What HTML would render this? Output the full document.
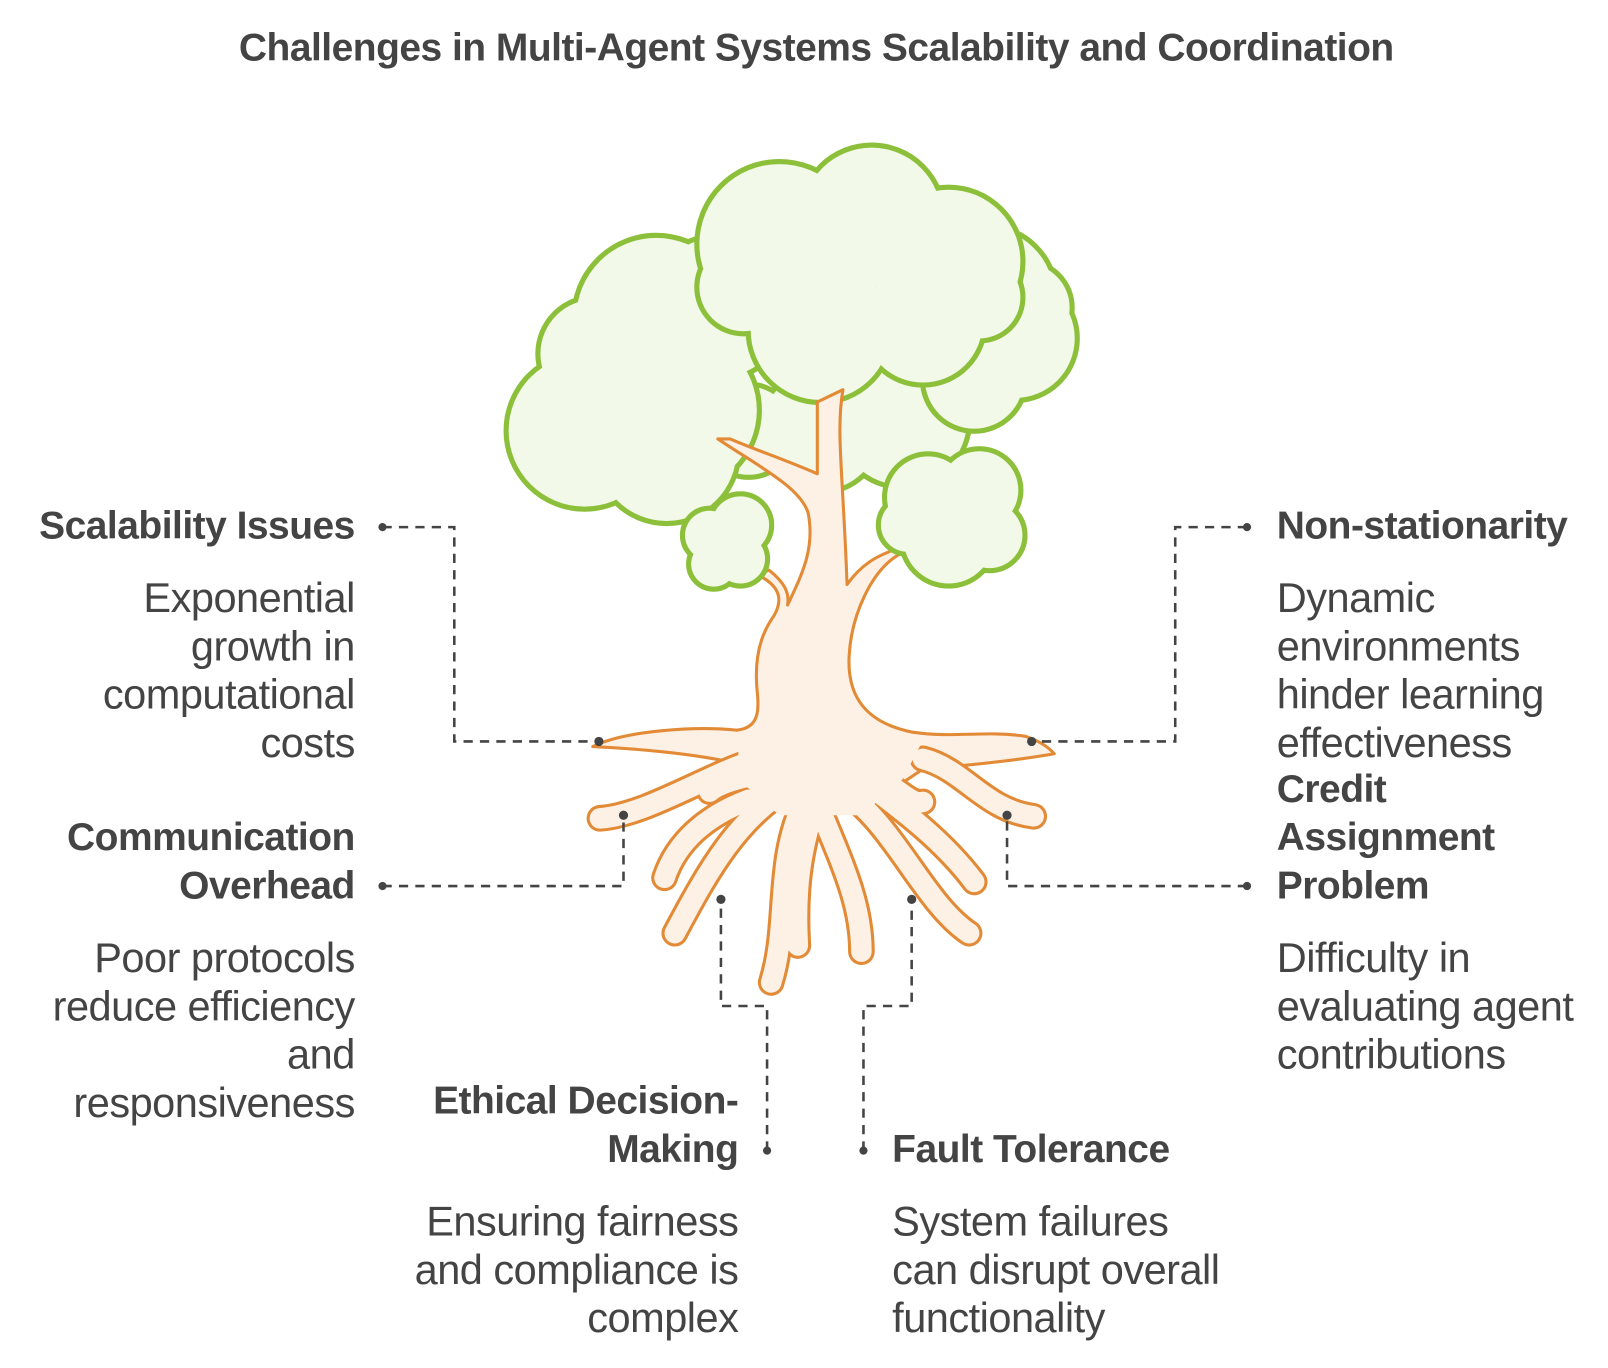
<!DOCTYPE html>
<html><head><meta charset="utf-8"><style>
body{margin:0;width:1608px;height:1368px;background:#fff;position:relative;font-family:"Liberation Sans",sans-serif;color:#444;overflow:hidden}
#w{position:absolute;left:0;top:0;width:1568px;height:1334px;transform:scale(1.0255);transform-origin:0 0}
.t{position:absolute;white-space:nowrap;line-height:47px}
.h{font-weight:bold;font-size:38px;letter-spacing:-0.5px}
.b{font-size:40.5px;letter-spacing:-0.5px}
.r{text-align:right}
</style></head><body><div id="w">
<svg width="1568" height="1334" style="position:absolute;left:0;top:0">
<!-- middle back cloud -->
<g><g stroke="#8dc03a" stroke-width="6" fill="#f2f9e8"><circle cx="800" cy="420" r="60"/><circle cx="880" cy="410" r="65"/><circle cx="730" cy="420" r="45"/></g>
<g fill="#f2f9e8"><circle cx="800" cy="420" r="58"/><circle cx="880" cy="410" r="63"/><circle cx="730" cy="420" r="43"/></g></g>
<!-- left cloud -->
<g><g stroke="#8dc03a" stroke-width="6" fill="#f2f9e8"><circle cx="640" cy="310" r="80"/><circle cx="580" cy="345" r="55"/><circle cx="570" cy="420" r="76"/><circle cx="660" cy="400" r="80"/><circle cx="700" cy="300" r="70"/><circle cx="650" cy="440" r="70"/></g>
<g fill="#f2f9e8"><circle cx="640" cy="310" r="78"/><circle cx="580" cy="345" r="53"/><circle cx="570" cy="420" r="74"/><circle cx="660" cy="400" r="78"/><circle cx="700" cy="300" r="68"/><circle cx="650" cy="440" r="68"/></g></g>
<!-- right back cloud -->
<g><g stroke="#8dc03a" stroke-width="6" fill="#f2f9e8"><circle cx="960" cy="290" r="70"/><circle cx="990" cy="330" r="60"/><circle cx="950" cy="370" r="50"/><circle cx="1000" cy="300" r="45"/></g>
<g fill="#f2f9e8"><circle cx="960" cy="290" r="68"/><circle cx="990" cy="330" r="58"/><circle cx="950" cy="370" r="48"/><circle cx="1000" cy="300" r="43"/></g></g>
<!-- main cloud -->
<g><g stroke="#8dc03a" stroke-width="6" fill="#f2f9e8"><circle cx="850" cy="212" r="70"/><circle cx="760" cy="238" r="80"/><circle cx="925" cy="255" r="72"/><circle cx="725" cy="280" r="45"/><circle cx="800" cy="322" r="70"/><circle cx="900" cy="315" r="60"/><circle cx="955" cy="290" r="42"/></g>
<g fill="#f2f9e8"><circle cx="850" cy="212" r="68"/><circle cx="760" cy="238" r="78"/><circle cx="925" cy="255" r="70"/><circle cx="725" cy="280" r="43"/><circle cx="800" cy="322" r="68"/><circle cx="900" cy="315" r="58"/><circle cx="955" cy="290" r="40"/></g></g>

<!-- trunk body -->
<path d="M578,728 C610,712 680,708 718,712 C742,710 740,690 738,670 C735,630 748,610 755,600 C765,582 758,570 738,560 L750,556 C765,568 770,578 768,590 C782,560 795,535 788,500 C780,475 740,455 700,428 L712,428 C740,440 765,448 797,462 L797,392 L822,380 C815,420 822,460 826,570 C840,550 855,542 875,535 L878,540 C850,555 830,600 828,640 C826,680 845,705 890,714 C930,720 960,712 1000,718 C1012,722 1022,728 1028,735 C1000,740 960,745 900,750 L840,790 L760,790 L720,745 C680,735 620,730 578,728 Z" fill="#fdf1e6" stroke="#e28a35" stroke-width="3" stroke-linejoin="round"/>
<g fill="none" stroke-linecap="round">
<g stroke="#e28a35" stroke-width="26">
<path d="M740,740 C690,755 630,795 585,798"/>
<path d="M775,765 C720,795 690,850 658,910"/>
<path d="M730,780 C690,795 660,820 648,856"/>
<path d="M740,755 C715,760 700,765 692,772"/>
<path d="M785,780 C755,840 770,900 752,958"/>
<path d="M795,785 C780,830 775,870 778,922"/>
<path d="M800,790 C820,840 840,880 840,928"/>
<path d="M820,770 C870,800 900,880 945,910"/>
<path d="M840,760 C880,790 920,820 950,860"/>
<path d="M850,752 C875,770 890,785 900,782"/>
<path d="M900,740 C940,750 960,790 1008,796"/>
</g>
<g stroke="#fdf1e6" stroke-width="20">
<path d="M740,740 C690,755 630,795 585,798"/>
<path d="M775,765 C720,795 690,850 658,910"/>
<path d="M730,780 C690,795 660,820 648,856"/>
<path d="M740,755 C715,760 700,765 692,772"/>
<path d="M785,780 C755,840 770,900 752,958"/>
<path d="M795,785 C780,830 775,870 778,922"/>
<path d="M800,790 C820,840 840,880 840,928"/>
<path d="M820,770 C870,800 900,880 945,910"/>
<path d="M840,760 C880,790 920,820 950,860"/>
<path d="M850,752 C875,770 890,785 900,782"/>
<path d="M900,740 C940,750 960,790 1008,796"/>
</g></g>
<path d="M720,718 L900,722 L880,760 L840,795 L760,795 L720,760 Z" fill="#fdf1e6"/>

<!-- small left cloud -->
<g><g stroke="#8dc03a" stroke-width="6" fill="#f2f9e8"><circle cx="692" cy="522" r="26"/><circle cx="722" cy="512" r="30"/><circle cx="722" cy="545" r="26"/><circle cx="696" cy="550" r="24"/></g>
<g fill="#f2f9e8"><circle cx="692" cy="522" r="24"/><circle cx="722" cy="512" r="28"/><circle cx="722" cy="545" r="24"/><circle cx="696" cy="550" r="22"/></g></g>
<!-- small right cloud -->
<g><g stroke="#8dc03a" stroke-width="6" fill="#f2f9e8"><circle cx="905" cy="485" r="42"/><circle cx="955" cy="478" r="40"/><circle cx="925" cy="525" r="46"/><circle cx="965" cy="522" r="34"/><circle cx="885" cy="512" r="28"/></g>
<g fill="#f2f9e8"><circle cx="905" cy="485" r="40"/><circle cx="955" cy="478" r="38"/><circle cx="925" cy="525" r="44"/><circle cx="965" cy="522" r="32"/><circle cx="885" cy="512" r="26"/></g></g>

<!-- connectors -->
<g fill="none" stroke="#444" stroke-width="2.5" stroke-dasharray="9 7">
<path d="M373,514 H443 V723 H584"/>
<path d="M373,864 H608 V795"/>
<path d="M748,1122 V981 H703 V877"/>
<path d="M842,1122 V981 H889 V877"/>
<path d="M1216,514 H1146 V723 H1006"/>
<path d="M1216,864 H982 V795"/>
</g>
<g fill="#444">
<circle cx="373" cy="514" r="4"/><circle cx="584" cy="723" r="4.5"/>
<circle cx="373" cy="864" r="4"/><circle cx="608" cy="795" r="4.5"/>
<circle cx="748" cy="1122" r="4"/><circle cx="703" cy="877" r="4.5"/>
<circle cx="842" cy="1122" r="4"/><circle cx="889" cy="877" r="4.5"/>
<circle cx="1216" cy="514" r="4"/><circle cx="1006" cy="723" r="4.5"/>
<circle cx="1216" cy="864" r="4"/><circle cx="982" cy="795" r="4.5"/>
</g>
</svg>

<div class="t h" style="left:0;width:1592px;text-align:center;top:24px;font-size:38px">Challenges in Multi-Agent Systems Scalability and Coordination</div>

<div class="t h r" style="right:1222px;top:490px">Scalability Issues</div>
<div class="t b r" style="right:1222px;top:560px">Exponential<br>growth in<br>computational<br>costs</div>

<div class="t h r" style="right:1222px;top:794px">Communication<br>Overhead</div>
<div class="t b r" style="right:1222px;top:911px">Poor protocols<br>reduce efficiency<br>and<br>responsiveness</div>

<div class="t h r" style="right:848px;top:1051px">Ethical Decision-<br>Making</div>
<div class="t b r" style="right:848px;top:1168px">Ensuring fairness<br>and compliance is<br>complex</div>

<div class="t h" style="left:870px;top:1098px">Fault Tolerance</div>
<div class="t b" style="left:870px;top:1168px">System failures<br>can disrupt overall<br>functionality</div>

<div class="t h" style="left:1245px;top:490px">Non-stationarity</div>
<div class="t b" style="left:1245px;top:560px">Dynamic<br>environments<br>hinder learning<br>effectiveness</div>

<div class="t h" style="left:1245px;top:747px">Credit<br>Assignment<br>Problem</div>
<div class="t b" style="left:1245px;top:911px">Difficulty in<br>evaluating agent<br>contributions</div>
</div></body></html>
